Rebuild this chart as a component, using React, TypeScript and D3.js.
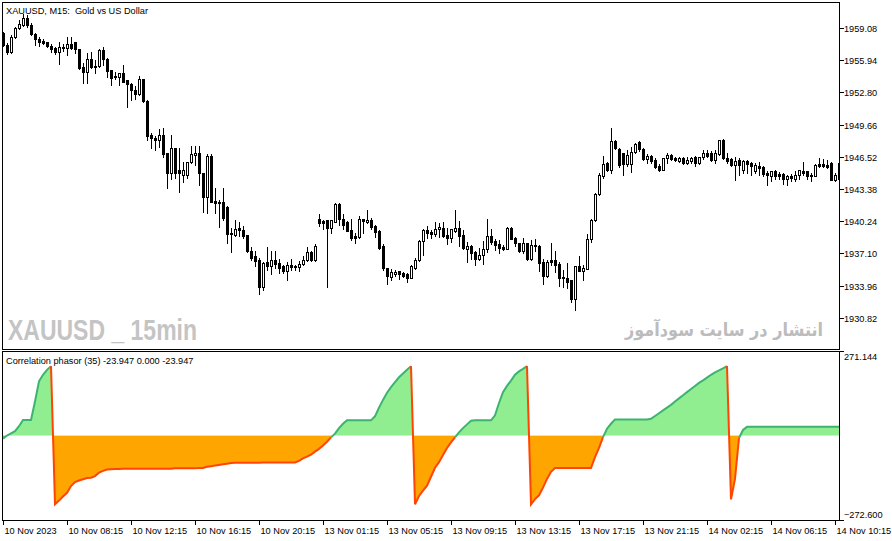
import { useEffect, useRef } from "react";
import * as d3 from "d3";

// XAUUSD M15 candles + Correlation phasor (35) sub-window.
const opens = [
  1958.6, 1957.4, 1956.7, 1958.2, 1959.1, 1959.4, 1960.1, 1959.4, 1958.5, 1958.0,
  1957.8, 1957.7, 1957.3, 1957.1, 1956.7, 1957.2, 1957.1, 1957.5, 1957.7, 1957.0,
  1955.3, 1954.8, 1956.1, 1955.4, 1955.4, 1956.9, 1956.1, 1955.0, 1954.4, 1954.3,
  1954.7, 1954.0, 1953.6, 1953.0, 1952.6, 1954.1, 1952.0, 1948.6, 1948.4, 1948.2,
  1948.6, 1946.9, 1944.9, 1947.4, 1945.2, 1944.7, 1944.7, 1946.0, 1946.7, 1946.9,
  1944.9, 1942.6, 1946.6, 1942.2, 1942.1, 1942.1, 1941.6, 1939.1, 1938.9, 1939.6,
  1939.4, 1938.9, 1937.3, 1936.8, 1936.5, 1933.8, 1936.3, 1935.9, 1936.5, 1936.2,
  1935.9, 1935.4, 1936.0, 1935.9, 1935.8, 1936.1, 1936.5, 1937.2, 1936.5, 1940.5,
  1940.3, 1940.4, 1939.6, 1940.2, 1941.9, 1940.5, 1940.2, 1939.4, 1938.8, 1938.7,
  1940.5, 1940.2, 1940.4, 1939.8, 1939.3, 1937.8, 1935.7, 1934.8, 1935.1, 1935.4,
  1935.2, 1935.1, 1934.7, 1935.7, 1936.5, 1938.3, 1939.4, 1939.2, 1939.0, 1939.5,
  1939.6, 1938.9, 1938.6, 1939.3, 1939.6, 1938.9, 1937.5, 1937.8, 1937.2, 1936.6,
  1936.9, 1937.5, 1938.8, 1938.3, 1938.0, 1937.7, 1937.5, 1939.6, 1938.6, 1938.1,
  1937.3, 1938.1, 1936.6, 1937.9, 1937.8, 1936.3, 1934.9, 1936.5, 1936.5, 1936.1,
  1934.8, 1934.7, 1934.5, 1932.7, 1935.9, 1935.4, 1935.6, 1938.5, 1940.4, 1942.9,
  1944.6, 1945.9, 1945.2, 1948.1, 1947.3, 1946.9, 1945.8, 1945.8, 1947.0, 1948.0,
  1947.3, 1946.3, 1946.6, 1946.2, 1945.6, 1945.2, 1946.4, 1946.7, 1946.4, 1946.1,
  1946.4, 1945.9, 1946.1, 1946.5, 1945.9, 1946.5, 1946.9, 1946.9, 1946.2, 1946.8,
  1948.2, 1946.4, 1946.3, 1945.7, 1946.2, 1945.2, 1946.1, 1945.9, 1945.1, 1945.6,
  1945.5, 1944.9, 1944.6, 1945.1, 1944.8, 1944.8, 1944.4, 1944.6, 1944.4, 1944.7,
  1945.1, 1945.1, 1944.7, 1944.6, 1945.8, 1945.8, 1945.7, 1945.9, 1944.3, 1945.9,
];
const highs = [
  1958.7, 1957.6, 1958.4, 1959.2, 1959.9, 1960.4, 1960.3, 1959.6, 1958.6, 1958.2,
  1958.0, 1957.7, 1957.5, 1957.2, 1957.7, 1957.5, 1958.2, 1958.2, 1957.7, 1957.0,
  1955.7, 1956.6, 1956.7, 1956.0, 1957.0, 1957.2, 1956.2, 1955.0, 1954.8, 1954.7,
  1955.5, 1954.0, 1953.7, 1953.4, 1954.4, 1954.1, 1952.1, 1948.8, 1948.5, 1949.2,
  1949.3, 1946.9, 1948.6, 1947.4, 1947.4, 1946.0, 1946.0, 1947.6, 1947.6, 1947.6,
  1944.9, 1946.8, 1946.8, 1943.5, 1942.3, 1943.5, 1941.7, 1939.6, 1940.4, 1940.2,
  1939.8, 1938.9, 1937.7, 1937.3, 1936.7, 1936.3, 1937.7, 1937.3, 1937.3, 1936.6,
  1936.0, 1936.3, 1936.6, 1936.0, 1936.4, 1936.8, 1937.7, 1937.3, 1938.0, 1940.9,
  1940.4, 1940.4, 1940.4, 1942.0, 1942.0, 1940.9, 1940.3, 1940.5, 1939.1, 1940.7,
  1940.5, 1941.3, 1940.6, 1939.9, 1939.4, 1938.0, 1935.7, 1935.6, 1935.5, 1935.4,
  1935.3, 1935.2, 1936.0, 1936.7, 1938.4, 1939.5, 1939.8, 1939.4, 1940.2, 1940.1,
  1940.2, 1939.6, 1939.5, 1941.3, 1940.3, 1939.4, 1938.2, 1937.9, 1937.3, 1937.6,
  1938.3, 1940.5, 1939.5, 1938.5, 1938.4, 1937.9, 1939.7, 1939.7, 1938.7, 1938.1,
  1938.6, 1938.1, 1938.4, 1938.5, 1937.9, 1936.6, 1936.5, 1938.1, 1937.3, 1936.3,
  1935.5, 1936.2, 1934.5, 1935.9, 1936.8, 1936.0, 1939.0, 1940.5, 1943.0, 1944.9,
  1946.6, 1946.0, 1949.3, 1948.2, 1947.4, 1946.9, 1947.2, 1947.5, 1947.9, 1948.1,
  1947.4, 1946.8, 1946.7, 1946.4, 1945.8, 1946.4, 1946.9, 1946.8, 1946.5, 1946.5,
  1946.5, 1946.5, 1946.5, 1946.6, 1946.5, 1947.2, 1947.2, 1947.1, 1947.2, 1948.2,
  1948.3, 1946.9, 1946.4, 1946.5, 1946.4, 1946.2, 1946.2, 1946.0, 1945.9, 1946.0,
  1945.6, 1945.1, 1945.1, 1945.2, 1945.0, 1944.9, 1944.7, 1944.8, 1945.1, 1945.2,
  1946.0, 1945.1, 1944.9, 1945.8, 1946.4, 1946.3, 1946.2, 1946.0, 1944.9, 1946.0,
];
const lows = [
  1957.3, 1956.5, 1956.6, 1958.1, 1959.0, 1959.3, 1959.2, 1958.4, 1957.4, 1957.3,
  1957.5, 1957.2, 1956.7, 1956.5, 1955.6, 1956.8, 1956.4, 1957.0, 1956.6, 1955.1,
  1953.7, 1953.7, 1955.2, 1954.7, 1955.3, 1955.5, 1954.3, 1953.5, 1954.1, 1953.5,
  1953.8, 1951.4, 1952.1, 1952.2, 1952.5, 1951.9, 1948.2, 1947.4, 1947.2, 1947.5,
  1946.5, 1943.5, 1944.4, 1944.5, 1943.1, 1944.1, 1944.5, 1945.9, 1945.7, 1943.8,
  1941.1, 1941.0, 1942.1, 1941.0, 1939.7, 1940.4, 1938.1, 1937.2, 1938.8, 1938.8,
  1938.6, 1937.2, 1936.5, 1935.9, 1933.1, 1933.5, 1935.5, 1935.1, 1935.7, 1935.2,
  1935.2, 1934.5, 1935.5, 1935.5, 1935.4, 1936.0, 1936.4, 1936.4, 1936.4, 1939.8,
  1939.5, 1933.8, 1939.1, 1940.2, 1939.9, 1939.5, 1939.3, 1938.4, 1938.1, 1938.6,
  1939.1, 1940.1, 1939.5, 1938.7, 1937.5, 1935.5, 1934.1, 1934.5, 1934.9, 1934.6,
  1934.8, 1934.3, 1934.7, 1935.6, 1936.4, 1936.9, 1938.6, 1938.6, 1938.8, 1938.7,
  1938.7, 1938.0, 1938.2, 1939.2, 1937.8, 1937.5, 1936.3, 1936.6, 1936.0, 1936.5,
  1936.1, 1937.2, 1938.0, 1937.4, 1937.1, 1937.4, 1937.5, 1938.5, 1937.8, 1937.2,
  1937.1, 1936.5, 1936.5, 1937.3, 1935.4, 1934.1, 1934.8, 1936.0, 1935.3, 1933.9,
  1933.8, 1933.7, 1932.4, 1931.6, 1935.4, 1934.5, 1935.6, 1938.2, 1940.3, 1942.8,
  1944.5, 1945.1, 1944.9, 1947.3, 1945.5, 1944.7, 1945.6, 1945.0, 1946.9, 1947.1,
  1946.2, 1945.9, 1945.9, 1945.4, 1945.1, 1945.2, 1945.9, 1946.2, 1946.1, 1946.0,
  1945.8, 1945.8, 1945.9, 1945.6, 1945.8, 1946.3, 1946.5, 1946.1, 1945.9, 1946.7,
  1946.3, 1945.9, 1945.6, 1944.3, 1944.7, 1944.9, 1944.9, 1944.7, 1944.9, 1944.7,
  1944.6, 1943.8, 1944.2, 1944.4, 1944.4, 1943.9, 1943.8, 1944.2, 1944.2, 1944.4,
  1944.7, 1944.4, 1944.2, 1944.6, 1945.5, 1945.5, 1945.4, 1944.3, 1944.2, 1944.3,
];
const closes = [
  1957.4, 1956.7, 1958.2, 1959.1, 1959.5, 1960.1, 1959.4, 1958.5, 1958.0, 1957.7,
  1957.6, 1957.3, 1957.0, 1956.7, 1957.2, 1957.1, 1957.5, 1957.1, 1957.0, 1955.2,
  1954.8, 1956.1, 1955.3, 1955.3, 1956.9, 1956.1, 1954.9, 1954.2, 1954.3, 1954.7,
  1953.8, 1953.6, 1953.0, 1952.6, 1954.1, 1952.0, 1948.5, 1948.4, 1948.2, 1948.6,
  1946.8, 1944.9, 1947.4, 1944.9, 1944.9, 1945.2, 1946.0, 1946.8, 1946.9, 1944.9,
  1942.6, 1946.6, 1942.1, 1942.0, 1942.0, 1940.6, 1939.0, 1939.0, 1939.5, 1939.4,
  1938.8, 1937.3, 1936.7, 1936.4, 1933.8, 1936.2, 1935.9, 1936.5, 1936.1, 1935.7,
  1935.4, 1936.0, 1935.8, 1935.8, 1936.1, 1936.5, 1937.2, 1936.5, 1937.8, 1940.1,
  1940.1, 1939.6, 1940.4, 1941.9, 1940.5, 1939.9, 1939.3, 1938.6, 1938.6, 1940.5,
  1940.3, 1940.4, 1939.7, 1939.2, 1937.6, 1935.7, 1934.9, 1935.3, 1935.3, 1935.1,
  1934.9, 1934.7, 1935.9, 1936.5, 1938.3, 1939.4, 1939.1, 1939.0, 1939.5, 1939.7,
  1938.8, 1938.6, 1939.5, 1939.6, 1938.8, 1937.6, 1937.8, 1937.1, 1936.6, 1936.9,
  1937.5, 1938.8, 1938.2, 1937.9, 1937.6, 1937.5, 1939.6, 1938.5, 1938.1, 1937.3,
  1938.1, 1936.6, 1937.9, 1937.8, 1936.2, 1934.9, 1936.3, 1936.3, 1936.0, 1934.7,
  1934.7, 1934.3, 1932.7, 1935.9, 1935.4, 1935.7, 1938.5, 1940.4, 1942.9, 1944.7,
  1945.8, 1945.2, 1948.1, 1947.4, 1945.7, 1945.8, 1946.7, 1947.0, 1947.8, 1947.3,
  1946.3, 1946.6, 1946.1, 1945.5, 1945.2, 1946.4, 1946.7, 1946.3, 1946.2, 1946.4,
  1945.9, 1946.2, 1946.4, 1945.9, 1946.5, 1946.9, 1946.6, 1946.2, 1946.9, 1948.2,
  1946.4, 1946.1, 1945.7, 1946.1, 1945.7, 1946.1, 1945.8, 1945.6, 1945.7, 1945.4,
  1944.8, 1944.7, 1945.1, 1944.6, 1944.6, 1944.4, 1944.6, 1944.5, 1944.7, 1945.2,
  1944.9, 1944.6, 1944.6, 1945.7, 1945.6, 1945.6, 1945.5, 1944.3, 1944.7, 1944.4,
];
const phasor = [
  -10, 0, 7, 14, 30, 50, 50, 50, 110, 175,
  196, 212, 224, -222, -210, -197, -185, -163, -150, -145,
  -141, -137, -136, -131, -120, -114, -110, -109, -108, -108,
  -107, -107, -107, -107, -107, -107, -107, -107, -107, -107,
  -107, -107, -107, -106, -106, -106, -106, -106, -106, -105,
  -105, -101, -99, -97, -95, -93, -91, -89, -88, -88,
  -88, -88, -88, -88, -88, -87, -87, -87, -87, -87,
  -87, -87, -87, -87, -82, -74, -68, -62, -52, -43,
  -32, -20, -6, 6, 24, 38, 49, 49, 49, 49,
  49, 49, 49, 62, 90, 115, 138, 156, 172, 188,
  200, 212, 224, -222, -195, -178, -162, -133, -104, -86,
  -63, -40, -22, -6, 10, 24, 36, 48, 49, 49,
  49, 49, 49, 65, 105, 140, 160, 177, 196, 207,
  215, 224, -222, -205, -193, -168, -140, -117, -105, -105,
  -105, -105, -105, -105, -105, -105, -105, -105, -70, -40,
  -5, 22, 38, 52, 52, 52, 52, 52, 52, 52,
  52, 52, 54, 63, 72, 81, 90, 99, 110, 120,
  130, 140, 150, 160, 170, 178, 187, 196, 204, 210,
  217, 224, -206, -140, -8, 18, 28, 28, 28, 28,
  28, 28, 28, 28, 28, 28, 28, 28, 28, 28,
  28, 28, 28, 28, 28, 28, 28, 28, 28, 28,
];
const priceTicks = [1959.08, 1955.94, 1952.8, 1949.66, 1946.52, 1943.38, 1940.24, 1937.1, 1933.96, 1930.82];
const timeLabels = [
  "10 Nov 2023", "10 Nov 08:15", "10 Nov 12:15", "10 Nov 16:15", "10 Nov 20:15",
  "13 Nov 01:15", "13 Nov 05:15", "13 Nov 09:15", "13 Nov 13:15", "13 Nov 17:15",
  "13 Nov 21:15", "14 Nov 02:15", "14 Nov 06:15", "14 Nov 10:15",
];
const indMax = 271.144;
const indMin = -272.6;

const FONT = "'Liberation Sans', Arial, sans-serif";

export default function App() {
  const svgRef = useRef<SVGSVGElement | null>(null);

  useEffect(() => {
    const svg = d3.select(svgRef.current);
    svg.selectAll("*").remove();
    const W = 892;
    const H = 541;
    svg.attr("viewBox", `0 0 ${W} ${H}`);

    const left = 3;
    const right = 839;
    const mainTop = 3;
    const mainBottom = 349;
    const indTop = 352;
    const indBottom = 520;

    const x = d3.scaleLinear().domain([0, 209]).range([3, 839]);
    const y = d3.scaleLinear().domain([1930.82, 1959.08]).range([317.8, 28]);
    const yi = d3.scaleLinear().domain([indMin, indMax]).range([indBottom, indTop - 0.5]);

    const defs = svg.append("defs");
    defs.append("clipPath").attr("id", "clipMain").append("rect")
      .attr("x", left).attr("y", mainTop).attr("width", right - left).attr("height", mainBottom - mainTop);
    defs.append("clipPath").attr("id", "clipInd").append("rect")
      .attr("x", left).attr("y", indTop).attr("width", right - left).attr("height", indBottom - indTop);
    const zeroY = yi(0);
    defs.append("clipPath").attr("id", "clipPos").append("rect")
      .attr("x", left).attr("y", indTop).attr("width", right - left).attr("height", zeroY - indTop);
    defs.append("clipPath").attr("id", "clipNeg").append("rect")
      .attr("x", left).attr("y", zeroY).attr("width", right - left).attr("height", indBottom - zeroY);

    svg.append("rect").attr("width", W).attr("height", H).attr("fill", "#fff");

    // watermarks
    svg.append("text")
      .attr("x", 8).attr("y", 340)
      .attr("font-family", "'Liberation Sans Narrow', 'Liberation Sans', sans-serif")
      .attr("font-weight", "bold").attr("font-size", 30)
      .attr("textLength", 189).attr("lengthAdjust", "spacingAndGlyphs")
      .attr("fill", "#c4c4c4")
      .text("XAUUSD _ 15min");
    svg.append("text")
      .attr("x", 823).attr("y", 336)
      .attr("text-anchor", "end")
      .attr("font-family", "'DejaVu Sans', sans-serif")
      .attr("font-weight", "bold").attr("font-size", 18)
      .attr("textLength", 198).attr("lengthAdjust", "spacingAndGlyphs")
      .attr("fill", "#bcbcbc")
      .text("انتشار در سایت سودآموز");

    // candles
    const gc = svg.append("g").attr("clip-path", "url(#clipMain)").attr("shape-rendering", "crispEdges");
    opens.forEach((o, i) => {
      const c = closes[i];
      const cx = Math.round(x(i));
      gc.append("line")
        .attr("x1", cx + 0.5).attr("x2", cx + 0.5)
        .attr("y1", Math.round(y(highs[i]))).attr("y2", Math.round(y(lows[i])) + 1)
        .attr("stroke", "#000");
      const top = Math.round(y(Math.max(o, c)));
      const bot = Math.round(y(Math.min(o, c)));
      if (bot - top < 1) {
        gc.append("line")
          .attr("x1", cx - 1).attr("x2", cx + 2)
          .attr("y1", top + 0.5).attr("y2", top + 0.5)
          .attr("stroke", "#000");
      } else {
        gc.append("rect")
          .attr("x", cx - 0.5).attr("y", top + 0.5)
          .attr("width", 2).attr("height", bot - top)
          .attr("fill", c >= o ? "#fff" : "#000")
          .attr("stroke", "#000");
      }
    });

    // indicator fill + line
    const area = d3.area<number>().x((_, i) => x(i)).y0(zeroY).y1((d) => yi(d));
    const gi = svg.append("g").attr("clip-path", "url(#clipInd)");
    gi.append("path").attr("d", area(phasor)).attr("fill", "#90ee90").attr("clip-path", "url(#clipPos)");
    gi.append("path").attr("d", area(phasor)).attr("fill", "#ffa500").attr("clip-path", "url(#clipNeg)");

    const line = d3.line<number>().x((i) => x(i)).y((i) => yi(phasor[i]));
    let run: number[] = [0];
    let runPos = phasor[0] >= 0;
    const flush = () => {
      if (run.length > 1) {
        gi.append("path").attr("d", line(run)).attr("fill", "none")
          .attr("stroke", runPos ? "#3cb371" : "#ff4500").attr("stroke-width", 2);
      }
    };
    for (let i = 1; i < phasor.length; i++) {
      const pos = phasor[i] >= 0;
      if (pos !== runPos) {
        flush();
        run = [i - 1];
        runPos = pos;
      }
      run.push(i);
    }
    flush();

    // frames
    const frames = svg.append("g").attr("fill", "none").attr("stroke", "#000").attr("shape-rendering", "crispEdges");
    frames.append("rect").attr("x", left - 0.5).attr("y", mainTop - 0.5)
      .attr("width", right - left + 1).attr("height", mainBottom - mainTop + 1);
    frames.append("rect").attr("x", left - 0.5).attr("y", indTop - 0.5)
      .attr("width", right - left + 1).attr("height", indBottom - indTop + 1);

    const txt = svg.append("g").attr("font-family", FONT).attr("font-size", 9.2).attr("fill", "#000");

    // titles
    txt.append("text").attr("x", 6).attr("y", 14).style("white-space", "pre")
      .text("XAUUSD, M15:  Gold vs US Dollar");
    txt.append("text").attr("x", 6).attr("y", 364)
      .text("Correlation phasor (35) -23.947 0.000 -23.947");

    // price axis
    priceTicks.forEach((p) => {
      const py = Math.round(y(p)) + 0.5;
      frames.append("line").attr("x1", right + 0.5).attr("x2", right + 4.5).attr("y1", py).attr("y2", py);
      txt.append("text").attr("x", right + 5).attr("y", py).attr("dominant-baseline", "central")
        .text(d3.format(".2f")(p));
    });

    // indicator axis
    frames.append("line").attr("x1", right + 0.5).attr("x2", right + 4.5).attr("y1", indTop - 0.5).attr("y2", indTop - 0.5);
    frames.append("line").attr("x1", right + 0.5).attr("x2", right + 4.5).attr("y1", indBottom + 0.5).attr("y2", indBottom + 0.5);
    txt.append("text").attr("x", right + 5).attr("y", indTop + 8).text(d3.format(".3f")(indMax));
    txt.append("text").attr("x", right + 5).attr("y", indBottom - 2).text(d3.format(".3f")(indMin));

    // time axis
    timeLabels.forEach((t, k) => {
      const tx = Math.round(x(k * 16)) + 0.5;
      frames.append("line").attr("x1", tx).attr("x2", tx).attr("y1", indBottom + 0.5).attr("y2", indBottom + 4.5);
      txt.append("text").attr("x", tx + 1).attr("y", 534).text(t);
    });
  }, []);

  return (
    <div style={{ position: "fixed", left: 0, top: 0, width: 892, height: 541, background: "#fff" }}>
      <svg ref={svgRef} width={892} height={541} style={{ display: "block" }} />
    </div>
  );
}
